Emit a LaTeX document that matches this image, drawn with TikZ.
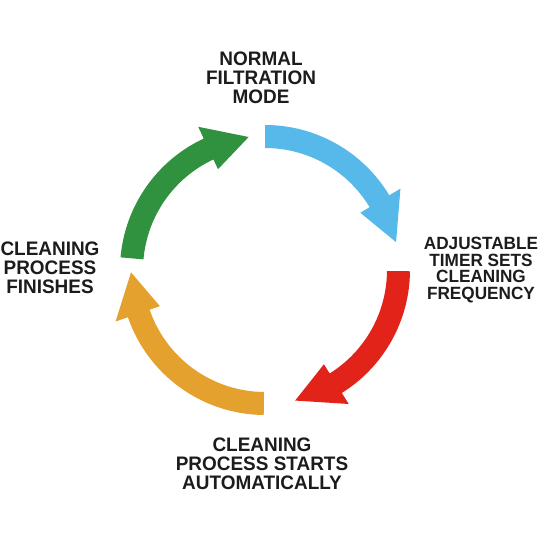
\documentclass[tikz,border=0pt]{standalone}
\usepackage{fontspec}
\setmainfont{Liberation Sans}[FakeStretch=0.97]
\usepackage{xcolor}
\usepackage{tikz}

\definecolor{filterblue}{HTML}{56B9E9}
\definecolor{timerred}{HTML}{E2231A}
\definecolor{startorange}{HTML}{E5A12E}
\definecolor{finishgreen}{HTML}{30913F}
\definecolor{labelgray}{HTML}{1C1C1C}

% #1 colour, #2 tail angle, #3 head base angle, #4 tip angle
\newcommand{\cyclearrow}[4]{%
	\fill[#1] (#2:3.625) arc[start angle=#2, end angle=#3, radius=3.625]
		-- (#3:3.95) -- (#4:3.35) -- (#3:2.78)
		-- (#3:3.05) arc[start angle=#3, end angle=#2, radius=3.05] -- cycle;}

\tikzset{
	steplabel/.style={labelgray, align=center, font=\bfseries\fontsize{13.9}{13.4}\selectfont},
}

\begin{document}
\begin{tikzpicture}
	\useasboundingbox (-6.625,-6.85) rectangle (6.975,6.75);
	\cyclearrow{filterblue}{90}{31}{12}
	\cyclearrow{timerred}{-0.5}{-58}{-77}
	\cyclearrow{startorange}{-90.5}{-161}{-179}
	\cyclearrow{finishgreen}{175}{115}{97}
	\node[steplabel] (normal) at (-0.1,4.8) {NORMAL\\FILTRATION\\MODE};
	\node[steplabel, font=\bfseries\fontsize{12.6}{11.9}\selectfont] (timer) at (5.4,0) {ADJUSTABLE\\TIMER SETS\\CLEANING\\FREQUENCY};
	\node[steplabel] (starts) at (-0.075,-4.85) {CLEANING\\PROCESS STARTS\\AUTOMATICALLY};
	\node[steplabel] (finishes) at (-5.375,0.05) {CLEANING\\PROCESS\\FINISHES};
\end{tikzpicture}
\end{document}
